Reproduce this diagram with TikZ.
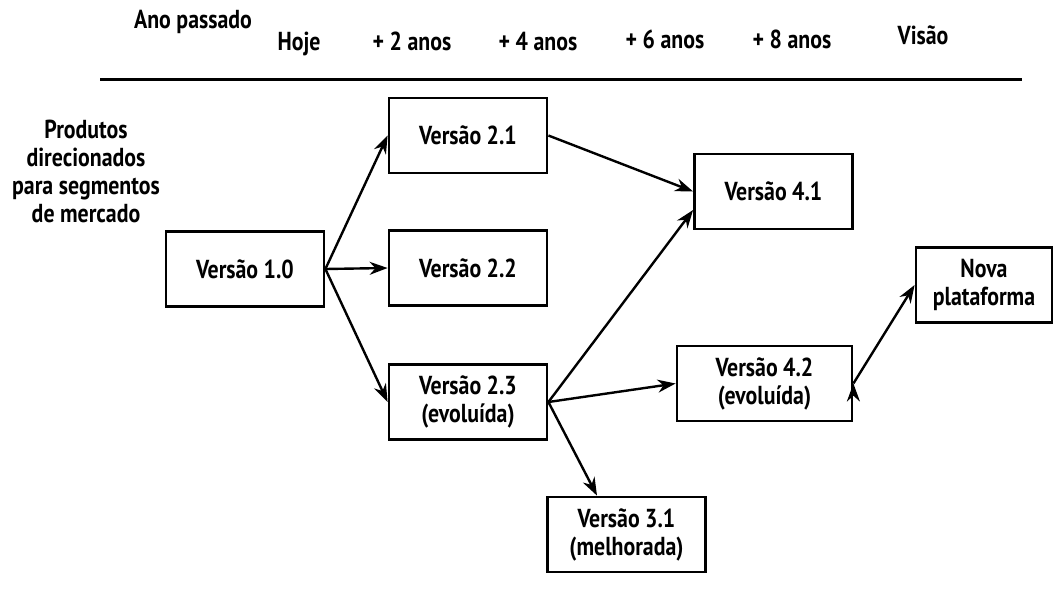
\documentclass[tikz,border=0pt]{standalone}
\usepackage{fontspec}
\setmainfont{PT Sans}[FakeStretch=0.84]
\usetikzlibrary{arrows.meta}

\begin{document}
\begin{tikzpicture}[
      x=0.5pt,y=-0.5pt,
      ->,>={Stealth[length=9pt,width=6.5pt]},
      line width=1.2pt,
      font=\fontsize{13}{14}\selectfont\bfseries,
      box/.style={rectangle,draw,line width=1.4pt,minimum width=79pt,minimum height=37.5pt,align=center,inner sep=0pt},
      header/.style={anchor=base,inner sep=0pt}
    ]
    \useasboundingbox (0,0) rectangle (1054,589);

    % cabecalho
    \node[header] (ano) at (193,28) {Ano passado};
    \node[header] (hoje) at (299,50) {Hoje};
    \node[header] (a2) at (412,50) {+ 2 anos};
    \node[header] (a4) at (538,50) {+ 4 anos};
    \node[header] (a6) at (665,48) {+ 6 anos};
    \node[header] (a8) at (792,48) {+ 8 anos};
    \node[header] (visao) at (923,44) {Visão};
    \draw[-,line width=1.5pt] (100,79) -- (1022,79);

    \node[align=center,inner sep=0pt] (produtos) at (86,171) {Produtos\\direcionados\\para segmentos\\de mercado};

    \node[box] (v10) at (245,269) {Versão 1.0};
    \node[box] (v21) at (468,135.5) {Versão 2.1};
    \node[box] (v22) at (468,268) {Versão 2.2};
    \node[box] (v23) at (468,402) {Versão 2.3\\(evoluída)};
    \node[box] (v41) at (773.5,191.5) {Versão 4.1};
    \node[box,minimum width=87.5pt] (v42) at (764.5,383.5) {Versão 4.2\\(evoluída)};
    \node[box] (v31) at (626.5,534.5) {Versão 3.1\\(melhorada)};
    \node[box,minimum width=68pt] (nova) at (984,285) {Nova\\plataforma};

    \draw [->]
    (v10.east) edge (v21.west)
    (v10.east) edge (v22.west)
    (v10.east) edge (v23.west)
    (v21.east) edge (v41.west)
    (v23.east) edge ([yshift=-9.25pt]v41.west)
    (v23.east) edge (v42.west)
    (v23.east) edge ([xshift=-14.75pt]v31.north)
    (v42.east) edge (nova.west);
  \end{tikzpicture}
\end{document}
